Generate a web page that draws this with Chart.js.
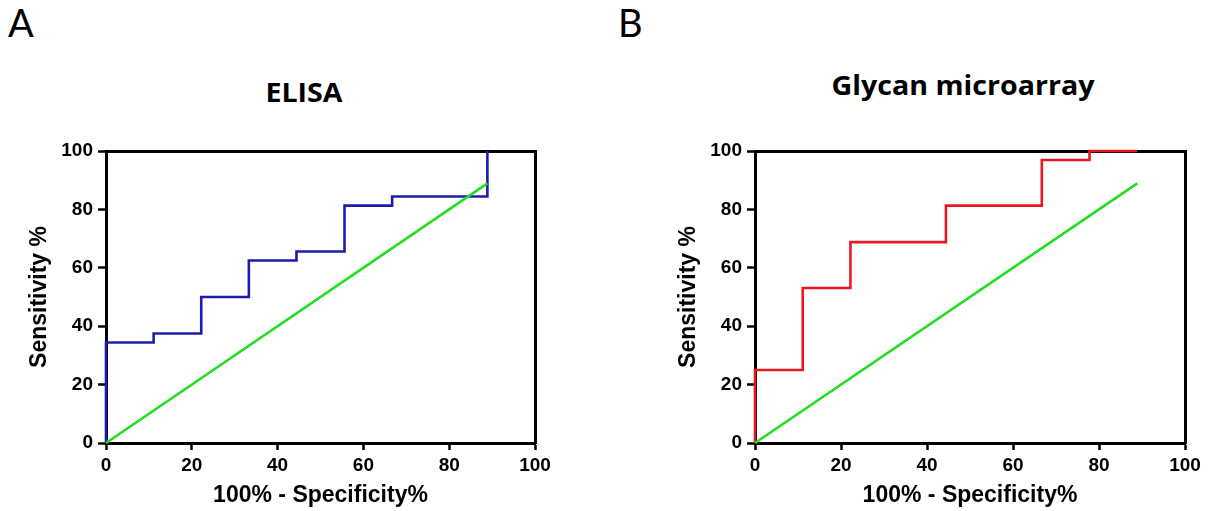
<!DOCTYPE html>
<html>
<head>
<meta charset="utf-8">
<script src="https://cdn.jsdelivr.net/npm/chart.js@4.4.1/dist/chart.umd.min.js"></script>
<style>
  html, body { margin: 0; padding: 0; background: #fff; }
  #page { position: relative; width: 1208px; height: 511px; overflow: hidden; }
  canvas { position: absolute; top: 0; }
  .letter { position: absolute; font-family: Lato, "Open Sans", sans-serif; font-size: 38px; line-height: 38px; color: #000; }
  .ttl { position: absolute; width: 400px; text-align: center; font-family: "Open Sans", Lato, sans-serif; font-weight: bold; font-size: 26px; line-height: 26px; color: #000; transform: scaleX(1.1); transform-origin: center; }
</style>
</head>
<body>
<div id="page">
  <div class="letter" style="left:8px; top:3px;">A</div>
  <div class="letter" style="left:618px; top:3px;">B</div>
  <div class="ttl" style="left:104px; top:79px;">ELISA</div>
  <div class="ttl" style="left:763px; top:72px;">Glycan microarray</div>
  <canvas id="elisaChart" width="604" height="511" style="left:0px;"></canvas>
  <canvas id="glycanChart" width="604" height="511" style="left:604px;"></canvas>
</div>
<script>
// ROC curves, values in %
var elisaFpr = [0, 0, 11.1, 22.2, 33.3, 44.4, 55.6, 66.7, 88.9];
var elisaSens = [0, 34.4, 37.5, 50, 62.5, 65.6, 81.3, 84.4, 100];

var glycanFpr = [0, 0, 11.1, 22.2, 44.4, 66.7, 77.8, 88.9];
var glycanSens = [0, 25, 53.1, 68.8, 81.3, 96.9, 100, 100];

// line of identity
var refX = [0, 88.9];
var refY = [0, 88.9];

var xTicks = [0, 20, 40, 60, 80, 100];
var yTicks = [0, 20, 40, 60, 80, 100];

Chart.defaults.font.family = '"Liberation Sans", Arial, sans-serif';
Chart.defaults.color = '#000';

function pts(xs, ys) {
  return xs.map(function (x, i) { return { x: x, y: ys[i] }; });
}

function makeRoc(id, xs, ys, color, padLeft, padRight) {
  var ctx = document.getElementById(id).getContext('2d');
  return new Chart(ctx, {
    type: 'line',
    data: {
      datasets: [{
        data: pts(refX, refY),
        borderColor: '#22dd22',
        borderWidth: 2.6,
        pointRadius: 0,
        tension: 0,
        clip: 3
      }, {
        data: pts(xs, ys),
        borderColor: color,
        borderWidth: 2.6,
        pointRadius: 0,
        stepped: 'before',
        clip: 3
      }]
    },
    options: {
      responsive: false,
      animation: false,
      layout: { padding: { left: padLeft, top: 151, right: padRight, bottom: 0 } },
      plugins: { legend: { display: false }, tooltip: { enabled: false } },
      scales: {
        x: {
          type: 'linear', min: 0, max: 100,
          afterBuildTicks: function (s) { s.ticks = xTicks.map(function (v) { return { value: v }; }); },
          afterFit: function (s) { s.height = 68; },
          ticks: { font: { size: 19, weight: 'bold' }, padding: 4, maxRotation: 0 },
          grid: { drawOnChartArea: false, drawTicks: true, tickLength: 7, tickColor: '#000', tickWidth: 2.5 },
          border: { color: '#000', width: 3 },
          title: { display: true, text: '100% - Specificity%', font: { size: 23, weight: 'bold' }, padding: { top: 0, bottom: 2 } }
        },
        y: {
          type: 'linear', min: 0, max: 100,
          afterBuildTicks: function (s) { s.ticks = yTicks.map(function (v) { return { value: v }; }); },
          afterFit: function (s) { s.width = 80; },
          ticks: { font: { size: 19, weight: 'bold' }, padding: 5 },
          grid: { drawOnChartArea: false, drawTicks: true, tickLength: 8, tickColor: '#000', tickWidth: 2.5 },
          border: { color: '#000', width: 3 },
          title: { display: true, text: 'Sensitivity %', font: { size: 23, weight: 'bold' }, padding: { top: 0, bottom: 0 } }
        },
        xTop: {
          type: 'linear', position: 'top', min: 0, max: 100,
          afterFit: function (s) { s.height = 0; },
          ticks: { display: false },
          grid: { drawOnChartArea: false, drawTicks: false },
          border: { color: '#000', width: 3 }
        },
        yRight: {
          type: 'linear', position: 'right', min: 0, max: 100,
          afterFit: function (s) { s.width = 0; },
          ticks: { display: false },
          grid: { drawOnChartArea: false, drawTicks: false },
          border: { color: '#000', width: 3 }
        }
      }
    }
  });
}

makeRoc('elisaChart', elisaFpr, elisaSens, '#1c1cb0', 26, 69);
makeRoc('glycanChart', glycanFpr, glycanSens, '#e8191e', 71, 23);
</script>
</body>
</html>
